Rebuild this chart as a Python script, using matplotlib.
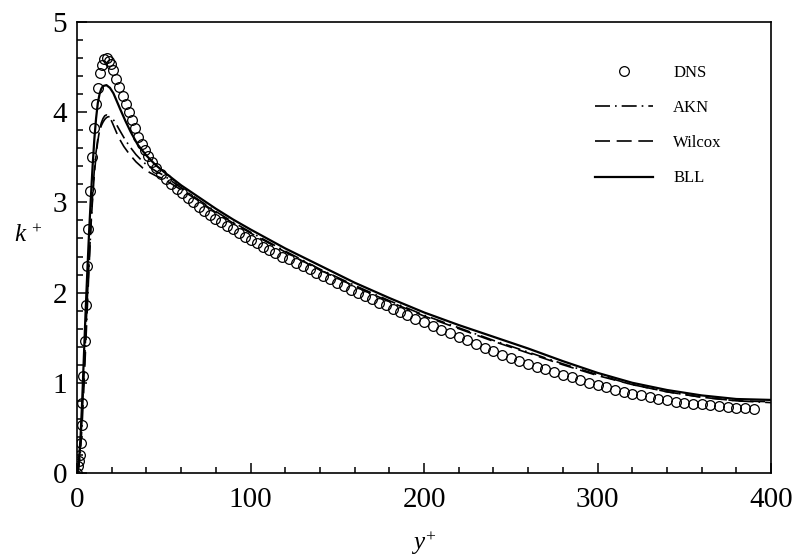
import matplotlib.pyplot as plt
from matplotlib.ticker import MultipleLocator

plt.rcParams['font.family'] = 'Liberation Serif'
plt.rcParams['mathtext.fontset'] = 'custom'
plt.rcParams['mathtext.rm'] = 'Liberation Serif'
plt.rcParams['mathtext.it'] = 'Liberation Serif:italic'

# DNS (circulos)
dns_y = [0.0, 0.8, 1.3, 1.7, 2.1, 2.7, 3.0, 3.6, 4.4, 5.2, 6.0, 6.6, 7.3, 8.6, 9.9,
         11.2, 12.0, 13.2, 14.3, 15.8, 17.3, 18.6, 19.8, 21.0, 22.6, 24.4, 26.4,
         28.2, 30.1, 31.8, 33.6, 35.4, 37.3, 39.2, 41.2, 43.4, 45.8, 48.4, 51.2,
         54.2, 57.4, 60.6, 63.8, 67.0, 70.2, 73.4, 76.6, 79.8, 83.0, 86.4, 89.8,
         93.2, 96.6, 100, 103.6, 107.2, 110.8, 114.4, 118, 122, 126, 130, 134,
         138, 142, 146, 150, 154, 158, 162, 166, 170, 174, 178, 182, 186, 190,
         195, 200, 205, 210, 215, 220, 225, 230, 235, 240, 245, 250, 255, 260,
         265, 270, 275, 280, 285, 290, 295, 300, 305, 310, 315, 320, 325, 330,
         335, 340, 345, 350, 355, 360, 365, 370, 375, 380, 385, 390]
dns_k = [0.00, 0.08, 0.13, 0.20, 0.33, 0.53, 0.78, 1.08, 1.46, 1.86, 2.29, 2.71,
         3.13, 3.50, 3.83, 4.09, 4.27, 4.43, 4.52, 4.59, 4.60, 4.57, 4.53, 4.47,
         4.37, 4.28, 4.18, 4.09, 4.00, 3.91, 3.82, 3.73, 3.65, 3.58, 3.51, 3.45,
         3.38, 3.32, 3.26, 3.20, 3.15, 3.10, 3.05, 3.00, 2.95, 2.90, 2.86, 2.82,
         2.78, 2.74, 2.70, 2.66, 2.62, 2.58, 2.55, 2.51, 2.47, 2.44, 2.40, 2.37,
         2.33, 2.29, 2.26, 2.22, 2.18, 2.15, 2.11, 2.07, 2.03, 2.00, 1.96, 1.93,
         1.89, 1.86, 1.82, 1.79, 1.75, 1.71, 1.67, 1.63, 1.59, 1.55, 1.51, 1.47,
         1.43, 1.39, 1.35, 1.31, 1.28, 1.24, 1.21, 1.18, 1.15, 1.12, 1.09, 1.06,
         1.03, 1.00, 0.98, 0.95, 0.92, 0.90, 0.88, 0.86, 0.84, 0.82, 0.81, 0.79,
         0.78, 0.77, 0.76, 0.75, 0.74, 0.73, 0.72, 0.72, 0.71]

# BLL (solida)
bll_y = [0, 1, 2, 3, 4, 5, 6, 7, 8, 9, 10, 11, 12, 13, 14, 15, 17, 19, 21, 23,
         25, 28, 31, 35, 40, 45, 50, 60, 70, 80, 90, 100, 120, 140, 160, 180,
         200, 220, 240, 260, 280, 300, 320, 340, 360, 380, 400]
bll_k = [0.00, 0.10, 0.38, 0.80, 1.30, 1.80, 2.25, 2.68, 3.05, 3.40, 3.70, 3.93,
         4.10, 4.20, 4.26, 4.29, 4.30, 4.27, 4.21, 4.12, 4.03, 3.90, 3.78, 3.64,
         3.52, 3.42, 3.34, 3.19, 3.06, 2.93, 2.81, 2.70, 2.49, 2.30, 2.11, 1.94,
         1.78, 1.64, 1.51, 1.38, 1.24, 1.11, 1.00, 0.92, 0.86, 0.82, 0.81]

# Wilcox (discontinua)
wil_y = [0, 1, 2, 3, 4, 5, 6, 7, 8, 9, 10, 11, 12, 13, 14, 15, 16, 17, 18, 20,
         22, 24, 27, 30, 34, 38, 42, 46, 50, 60, 70, 80, 90, 100, 120, 140, 160,
         180, 200, 220, 240, 260, 280, 300, 320, 340, 360, 380, 400]
wil_k = [0.00, 0.08, 0.30, 0.65, 1.08, 1.52, 1.95, 2.36, 2.72, 3.04, 3.31, 3.52,
         3.68, 3.80, 3.88, 3.93, 3.96, 3.97, 3.96, 3.90, 3.81, 3.72, 3.62, 3.54,
         3.45, 3.38, 3.33, 3.29, 3.26, 3.14, 3.02, 2.89, 2.77, 2.66, 2.45, 2.25,
         2.07, 1.90, 1.74, 1.60, 1.46, 1.33, 1.20, 1.08, 0.98, 0.90, 0.84, 0.80,
         0.79]

# AKN (punto-raya)
akn_y = [0, 1, 2, 3, 4, 5, 6, 7, 8, 9, 10, 11, 12, 13, 14, 15, 16, 17, 18, 19,
         20, 22, 24, 27, 30, 34, 38, 42, 46, 50, 60, 70, 80, 90, 100, 120, 140,
         160, 180, 200, 220, 240, 260, 280, 300, 320, 340, 360, 380, 400]
akn_k = [0.00, 0.06, 0.24, 0.55, 0.95, 1.40, 1.85, 2.30, 2.72, 3.08, 3.36, 3.56,
         3.70, 3.79, 3.85, 3.89, 3.92, 3.94, 3.95, 3.95, 3.94, 3.89, 3.82, 3.72,
         3.63, 3.53, 3.45, 3.39, 3.34, 3.30, 3.16, 3.03, 2.90, 2.78, 2.67, 2.46,
         2.26, 2.08, 1.91, 1.75, 1.61, 1.47, 1.34, 1.21, 1.09, 0.98, 0.90, 0.84,
         0.80, 0.78]

fig = plt.figure(figsize=(7.96, 5.6), dpi=100)
ax = fig.add_axes([0.0967, 0.1554, 0.872, 0.8053])

ax.plot(dns_y, dns_k, 'o', mfc='none', mec='black', ms=7, mew=0.9, label='DNS')
ax.plot(akn_y, akn_k, color='black', lw=1.2, dashes=(9, 3, 1, 3), label='AKN')
ax.plot(wil_y, wil_k, color='black', lw=1.2, dashes=(9, 4), label='Wilcox')
ax.plot(bll_y, bll_k, color='black', lw=1.6, label='BLL')

ax.set_xlim(0, 400)
ax.set_ylim(0, 5)
ax.xaxis.set_major_locator(MultipleLocator(100))
ax.xaxis.set_minor_locator(MultipleLocator(20))
ax.yaxis.set_major_locator(MultipleLocator(1))
ax.yaxis.set_minor_locator(MultipleLocator(0.2))
ax.tick_params(which='both', direction='in', top=False, right=False, width=1.1)
ax.tick_params(which='major', length=7, labelsize=21)
ax.tick_params(which='minor', length=4)
ax.tick_params(axis='x', pad=10)
ax.tick_params(axis='y', pad=7)
for s in ax.spines.values():
    s.set_linewidth(1.2)

ax.set_xlabel('$y^{+}$', fontsize=18)
ax.xaxis.set_label_coords(0.5, -0.125)
ax.set_ylabel('$k^{\\,+}$', fontsize=18, rotation=0)
ax.yaxis.set_label_coords(-0.07, 0.5)

ax.legend(loc='upper left', bbox_to_anchor=(0.746, 0.905), frameon=False,
          fontsize=12, numpoints=1, handlelength=3.5, handletextpad=1.2,
          labelspacing=1.15, borderpad=0, borderaxespad=0)

fig.savefig('out.png', dpi=100)
